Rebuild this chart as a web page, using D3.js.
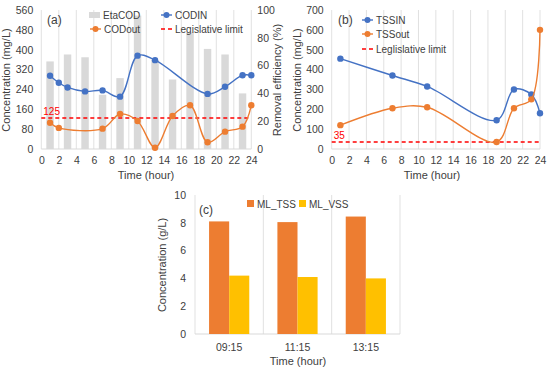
<!DOCTYPE html>
<html>
<head>
<meta charset="utf-8">
<script src="https://cdn.jsdelivr.net/npm/d3@7"></script>
<style>
  body { margin: 0; background: #fff; }
  svg { font-family: "Liberation Sans", Arial, sans-serif; }
  .tick text { font-size: 10.5px; fill: #404040; }
</style>
</head>
<body>
<svg id="chart" width="550" height="370"></svg>
<script>
// panel (a) - COD
const etaHours = [1, 3, 5, 7, 9, 11, 13, 15, 17, 19, 21, 23];
const etaCOD = [63, 68, 66, 39, 51, 96, 64, 50, 84, 72, 68, 40];
const codInHours = [1, 2, 3, 5, 7, 9, 11, 13, 19, 21, 23, 24];
const codIn = [295, 267, 248, 232, 236, 211, 376, 358, 222, 251, 297, 297];
const codOutHours = [1, 2, 7, 9, 11, 13, 15, 17, 19, 21, 23, 24];
const codOut = [106, 85, 82, 141, 113, 5, 133, 176, 27, 70, 90, 176];
const codLimit = 125;

// panel (b) - TSS
const tssHours = [1, 7, 11, 19, 21, 23, 24];
const tssIn = [455, 370, 315, 145, 300, 275, 180];
const tssOut = [120, 205, 210, 35, 205, 250, 600];
const tssLimit = 35;

// panel (c) - mixed liquor
const mlTimes = ["09:15", "11:15", "13:15"];
const mlTSS = [8.1, 8.05, 8.45];
const mlVSS = [4.2, 4.1, 4.0];

const hourTicks = d3.range(0, 25, 2);

const BLUE = "#4472C4", ORANGE = "#ED7D31", YELLOW = "#FFC000", GRAY = "#D9D9D9", RED = "#FF0000";
const GRID = "#D9D9D9", TXT = "#404040";

const svg = d3.select("#chart");

function styleAxis(g) {
    g.select(".domain").remove();
    g.selectAll(".tick line").remove();
}

function drawGrid(g, x, y, ticks) {
    g.append("g").selectAll("line")
        .data(ticks)
        .join("line")
        .attr("x1", d => x(d)).attr("x2", d => x(d))
        .attr("y1", y.range()[0]).attr("y2", y.range()[1])
        .attr("stroke", GRID).attr("stroke-width", 0.8);
    g.append("line")
        .attr("x1", x.range()[0]).attr("x2", x.range()[1])
        .attr("y1", y.range()[0]).attr("y2", y.range()[0])
        .attr("stroke", GRID).attr("stroke-width", 1);
}

function drawSeries(g, x, y, hours, vals, color) {
    const pts = hours.map((h, i) => [h, vals[i]]);
    g.append("path")
        .attr("d", d3.line().x(d => x(d[0])).y(d => y(d[1])).curve(d3.curveCatmullRom.alpha(0.5))(pts))
        .attr("fill", "none").attr("stroke", color).attr("stroke-width", 1.4);
    g.append("g").selectAll("circle")
        .data(pts)
        .join("circle")
        .attr("cx", d => x(d[0])).attr("cy", d => y(d[1]))
        .attr("r", 3.2).attr("fill", color);
}

function drawLimit(g, x, y, val) {
    g.append("line")
        .attr("x1", x(0)).attr("x2", x(24))
        .attr("y1", y(val)).attr("y2", y(val))
        .attr("stroke", RED).attr("stroke-width", 1.6).attr("stroke-dasharray", "4,3");
    g.append("text")
        .attr("x", x(0) + 2).attr("y", y(val) - 3)
        .attr("font-size", 10).attr("fill", RED)
        .text(val);
}

function legendLine(g, lx, ly, color, label, dashed) {
    g.append("line")
        .attr("x1", lx).attr("x2", lx + 11).attr("y1", ly).attr("y2", ly)
        .attr("stroke", color).attr("stroke-width", dashed ? 1.6 : 1.4)
        .attr("stroke-dasharray", dashed ? "4,3" : null);
    if (!dashed) {
        g.append("circle").attr("cx", lx + 5.5).attr("cy", ly).attr("r", 3).attr("fill", color);
    }
    g.append("text").attr("x", lx + 14).attr("y", ly + 3.5)
        .attr("font-size", 10).attr("fill", TXT).text(label);
}

function yTitle(g, x, y, label) {
    g.append("text")
        .attr("transform", `translate(${x},${y}) rotate(-90)`)
        .attr("text-anchor", "middle")
        .attr("font-size", 11).attr("fill", TXT)
        .text(label);
}

function xTitle(g, x, y, label) {
    g.append("text")
        .attr("x", x).attr("y", y)
        .attr("text-anchor", "middle")
        .attr("font-size", 11).attr("fill", TXT)
        .text(label);
}

// ---------- panel (a) ----------
{
    const g = svg.append("g");
    const x = d3.scaleLinear().domain([0, 24]).range([41.3, 251.3]);
    const y = d3.scaleLinear().domain([0, 560]).range([149, 10]);
    const y2 = d3.scaleLinear().domain([0, 100]).range([149, 10]);

    drawGrid(g, x, y, hourTicks);

    const bw = (x(1) - x(0)) * 0.85;
    g.append("g").selectAll("rect")
        .data(etaHours.map((h, i) => [h, etaCOD[i]]))
        .join("rect")
        .attr("x", d => x(d[0]) - bw / 2).attr("width", bw)
        .attr("y", d => y2(d[1])).attr("height", d => y2(0) - y2(d[1]))
        .attr("fill", GRAY);

    drawLimit(g, x, y, codLimit);
    drawSeries(g, x, y, codInHours, codIn, BLUE);
    drawSeries(g, x, y, codOutHours, codOut, ORANGE);

    g.append("g").attr("transform", "translate(0,149)")
        .call(d3.axisBottom(x).tickValues(hourTicks).tickSize(0).tickPadding(8))
        .call(styleAxis);
    g.append("g").attr("transform", "translate(41.3,0)")
        .call(d3.axisLeft(y).tickValues(d3.range(0, 561, 80)).tickSize(0).tickPadding(8))
        .call(styleAxis);
    g.append("g").attr("transform", "translate(251.3,0)")
        .call(d3.axisRight(y2).tickValues(d3.range(0, 101, 20)).tickSize(0).tickPadding(6))
        .call(styleAxis);

    g.append("text").attr("x", 47).attr("y", 24).attr("font-size", 12).attr("fill", TXT).text("(a)");

    g.append("rect").attr("x", 89).attr("y", 12).attr("width", 11).attr("height", 6).attr("fill", GRAY);
    g.append("text").attr("x", 103).attr("y", 18.5).attr("font-size", 10).attr("fill", TXT).text("EtaCOD");
    legendLine(g, 161, 15, BLUE, "CODIN", false);
    legendLine(g, 90, 29, ORANGE, "CODout", false);
    legendLine(g, 161, 29, RED, "Legislative limit", true);

    yTitle(g, 10, 80, "Concentration (mg/L)");
    yTitle(g, 281, 80, "Removal efficiency (%)");
    xTitle(g, 146, 179, "Time (hour)");
}

// ---------- panel (b) ----------
{
    const g = svg.append("g");
    const x = d3.scaleLinear().domain([0, 24]).range([331.7, 540]);
    const y = d3.scaleLinear().domain([0, 700]).range([149, 10]);

    drawGrid(g, x, y, hourTicks);
    drawLimit(g, x, y, tssLimit);
    drawSeries(g, x, y, tssHours, tssIn, BLUE);
    drawSeries(g, x, y, tssHours, tssOut, ORANGE);

    g.append("g").attr("transform", "translate(0,149)")
        .call(d3.axisBottom(x).tickValues(hourTicks).tickSize(0).tickPadding(8))
        .call(styleAxis);
    g.append("g").attr("transform", "translate(331.7,0)")
        .call(d3.axisLeft(y).tickValues(d3.range(0, 701, 100)).tickSize(0).tickPadding(8))
        .call(styleAxis);

    g.append("text").attr("x", 338).attr("y", 24).attr("font-size", 12).attr("fill", TXT).text("(b)");

    legendLine(g, 362, 20, BLUE, "TSSIN", false);
    legendLine(g, 362, 34, ORANGE, "TSSout", false);
    legendLine(g, 362, 49, RED, "Leglislative limit", true);

    yTitle(g, 301, 80, "Concentration (mg/L)");
    xTitle(g, 432, 179, "Time (hour)");
}

// ---------- panel (c) ----------
{
    const g = svg.append("g");
    const x = d3.scaleBand().domain(mlTimes).range([195, 400]);
    const y = d3.scaleLinear().domain([0, 10]).range([334, 195]);
    const inner = d3.scaleBand().domain(["TSS", "VSS"]).range([0, x.bandwidth()]).paddingInner(0).paddingOuter(0.7);

    // category separators
    g.append("g").selectAll("line")
        .data(d3.range(mlTimes.length + 1))
        .join("line")
        .attr("x1", i => 195 + i * x.step()).attr("x2", i => 195 + i * x.step())
        .attr("y1", 334).attr("y2", 195)
        .attr("stroke", GRID).attr("stroke-width", 0.8);
    g.append("line").attr("x1", 195).attr("x2", 400).attr("y1", 334).attr("y2", 334)
        .attr("stroke", GRID).attr("stroke-width", 1);

    const rows = mlTimes.map((t, i) => ({ t, TSS: mlTSS[i], VSS: mlVSS[i] }));
    const colors = { TSS: ORANGE, VSS: YELLOW };
    ["TSS", "VSS"].forEach(k => {
        g.append("g").selectAll("rect")
            .data(rows)
            .join("rect")
            .attr("x", d => x(d.t) + inner(k)).attr("width", inner.bandwidth())
            .attr("y", d => y(d[k])).attr("height", d => y(0) - y(d[k]))
            .attr("fill", colors[k]);
    });

    g.append("g").attr("transform", "translate(0,334)")
        .call(d3.axisBottom(x).tickSize(0).tickPadding(10))
        .call(styleAxis);
    g.append("g").attr("transform", "translate(195,0)")
        .call(d3.axisLeft(y).tickValues(d3.range(0, 11, 2)).tickSize(0).tickPadding(9))
        .call(styleAxis);

    g.append("text").attr("x", 199).attr("y", 214).attr("font-size", 12).attr("fill", TXT).text("(c)");

    g.append("rect").attr("x", 247).attr("y", 200).attr("width", 7).attr("height", 7).attr("fill", ORANGE);
    g.append("text").attr("x", 257).attr("y", 207.5).attr("font-size", 10).attr("fill", TXT).text("ML_TSS");
    g.append("rect").attr("x", 299).attr("y", 200).attr("width", 7).attr("height", 7).attr("fill", YELLOW);
    g.append("text").attr("x", 309).attr("y", 207.5).attr("font-size", 10).attr("fill", TXT).text("ML_VSS");

    yTitle(g, 166, 265, "Concentration (g/L)");
    xTitle(g, 298, 365, "Time (hour)");
}
</script>
</body>
</html>
